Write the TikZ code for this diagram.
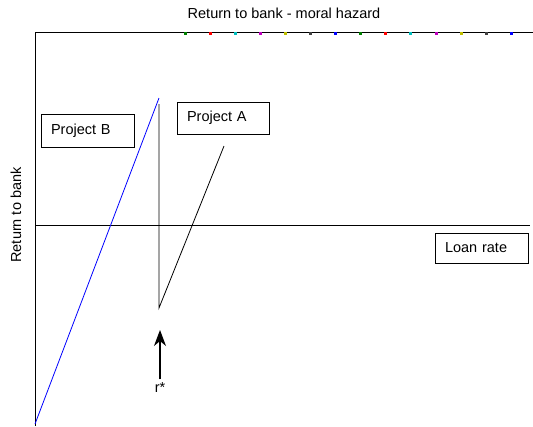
\documentclass[tikz,border=0pt]{standalone}
\usepackage{fontspec}
\setmainfont{Liberation Sans}
\usetikzlibrary{positioning, calc, arrows.meta}

\definecolor{mgreen}{rgb}{0,0.5,0}
\definecolor{mcyan}{rgb}{0,0.75,0.75}
\definecolor{mmagenta}{rgb}{0.75,0,0.75}
\definecolor{myellow}{rgb}{0.75,0.75,0}
\definecolor{mgray}{rgb}{0.25,0.25,0.25}

\begin{document}
\begin{tikzpicture}[
        x=1pt, y=-1pt,
        every node/.style={align=center, font=\fontsize{14.5}{17}\selectfont},
        labelbox/.style={draw, line width=0.8pt, text width=73pt, align=left, inner xsep=10pt, inner ysep=0pt, minimum height=32pt},
        axis/.style={line width=0.8pt}
    ]
        \useasboundingbox (0,0) rectangle (533,426);

        % frame and axes
        \coordinate (top left) at (35,32);
        \coordinate (top right) at (533,32);
        \coordinate (bottom left) at (35,426);
        \coordinate (axis left) at (35,225);
        \coordinate (axis right) at (530,225);
        \draw[axis] (top right) -- (top left) -- (bottom left);
        \draw[axis] (axis left) -- (axis right);

        \foreach \c [count=\i from 0] in {mgreen, red, mcyan, mmagenta, myellow, mgray, blue,
                                           mgreen, red, mcyan, mmagenta, myellow, mgray, blue}
            \fill[\c] ({185+25.1*\i-1.5},32) rectangle ++(3,3);

        \node (title) at (284,13) {Return to bank - moral hazard};
        \node[rotate=90] (ylabel) at (16,215) {Return to bank};

        % the two projects
        \coordinate (b start) at (35,424);
        \coordinate (b end) at (159,98);
        \coordinate (a top) at (159,104);
        \coordinate (a low) at (159,308);
        \coordinate (a end) at (224,146);
        \draw[blue, line width=0.8pt] (b start) -- (b end);
        \draw[line width=0.8pt] (a top) -- (a low) -- (a end);

        \node[labelbox, minimum height=33pt] (projB) at (87.5,130.5) {Project B};
        \node[labelbox, text width=72pt] (projA) at (223,118) {Project A};
        \node[labelbox, minimum height=30pt] (loan) at (481.5,248) {Loan rate};

        % critical rate
        \node (rstar) at (160,388) {r*};
        \coordinate (arrow tip) at (160,330);
        \draw[-{Stealth[length=16pt, width=12pt, inset=5pt]}, line width=1.2pt] (rstar.north) -- (arrow tip);
    \end{tikzpicture}
\end{document}
